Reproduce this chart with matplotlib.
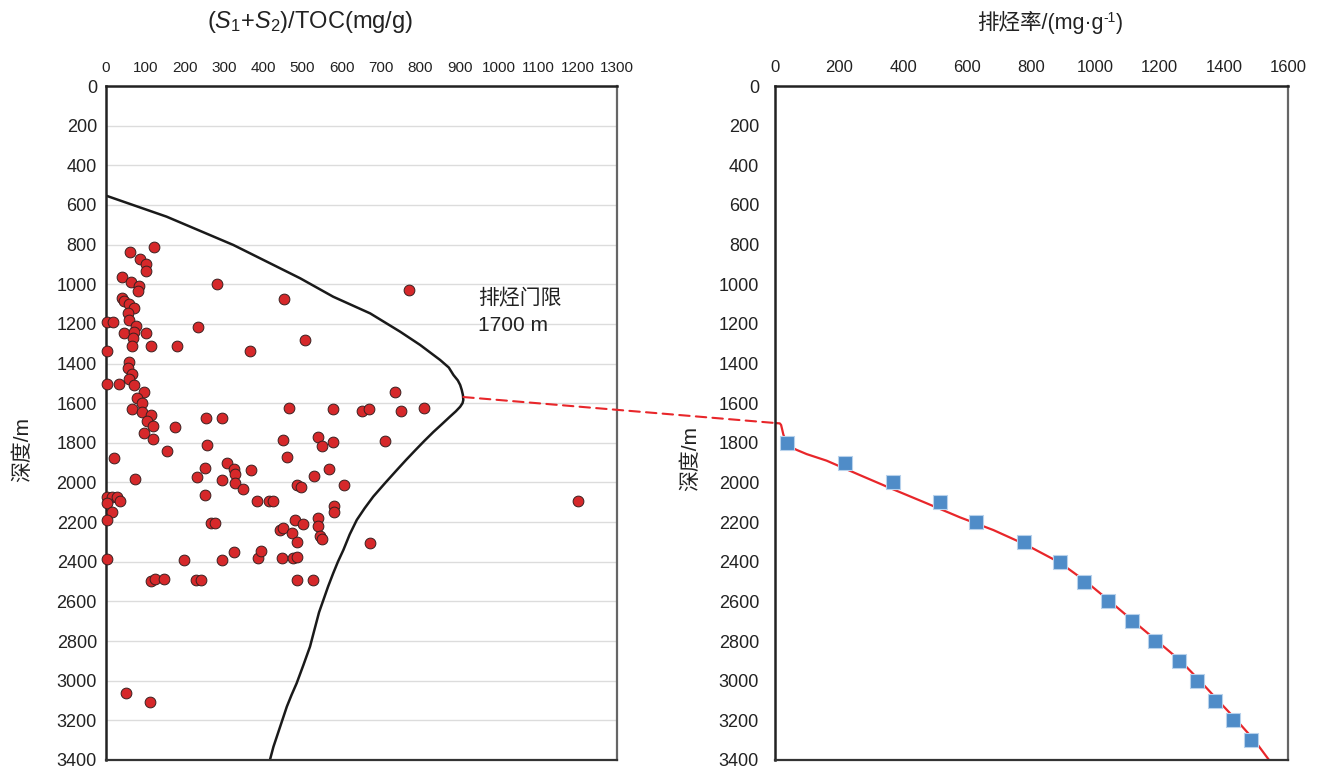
import matplotlib
matplotlib.use("Agg")
import matplotlib.pyplot as plt
from matplotlib.patches import ConnectionPatch

plt.rcParams['font.family'] = ['Liberation Sans', 'Noto Sans CJK SC', 'DejaVu Sans']
plt.rcParams['mathtext.fontset'] = 'custom'
plt.rcParams['mathtext.rm'] = 'Liberation Sans'
plt.rcParams['mathtext.it'] = 'Liberation Sans:italic'

MIXED = ['Liberation Sans', 'Noto Sans CJK SC', 'DejaVu Sans']

# (S1+S2)/TOC samples: value (mg/g) and depth (m)
hi_value = [123, 61, 86, 102, 102, 40, 63, 84, 81, 282, 453, 40, 47, 59, 72, 55, 59, 2, 17, 76,
            235, 47, 101, 71, 69, 506, 67, 114, 180, 2, 367, 59, 55, 67, 59, 72, 2, 34, 97, 80,
            92, 67, 92, 114, 105, 120, 97, 120, 175, 465, 578, 254, 296, 154, 256, 451, 460, 540,
            550, 577, 20, 75, 232, 253, 295, 307, 326, 328, 329, 349, 368, 530, 567, 606, 485,
            495, 2, 15, 27, 36, 2, 15, 2, 2, 252, 385, 415, 426, 579, 581, 267, 277, 443, 451,
            480, 502, 472, 485, 540, 540, 544, 550, 199, 294, 325, 386, 394, 448, 476, 487, 114,
            125, 148, 229, 241, 487, 526, 736, 650, 668, 751, 810, 711, 672, 772, 1200, 50, 112]
hi_depth = [811, 839, 873, 899, 932, 962, 990, 1009, 1033, 1000, 1073, 1071, 1083, 1100, 1121, 1147,
            1180, 1192, 1192, 1211, 1217, 1244, 1244, 1239, 1270, 1281, 1311, 1311, 1311, 1335, 1335,
            1391, 1421, 1453, 1479, 1510, 1502, 1502, 1542, 1575, 1599, 1631, 1643, 1661, 1690, 1715,
            1749, 1782, 1720, 1626, 1628, 1673, 1673, 1841, 1811, 1786, 1870, 1769, 1814, 1794, 1875,
            1984, 1971, 1928, 1989, 1900, 1933, 1959, 2001, 2033, 1937, 1969, 1933, 2013, 2013, 2021,
            2072, 2075, 2072, 2092, 2102, 2150, 2189, 2384, 2065, 2092, 2092, 2092, 2119, 2150, 2206,
            2206, 2241, 2231, 2189, 2211, 2256, 2302, 2181, 2218, 2270, 2287, 2391, 2391, 2349, 2379,
            2346, 2379, 2379, 2377, 2497, 2487, 2488, 2493, 2493, 2492, 2492, 1544, 1639, 1628, 1639,
            1623, 1789, 2305, 1031, 2095, 3062, 3105]

# Envelope of the (S1+S2)/TOC data
env_value = [0, 154, 324, 494, 578, 672, 748, 799, 850, 872, 884, 895, 901, 905, 908, 909, 907,
             901, 890, 875, 855, 833, 810, 788, 764, 740, 710, 680, 658, 638, 620, 604, 590, 578,
             565, 553, 542, 530, 519, 502, 485, 472, 460, 443, 426, 417]
env_depth = [553, 659, 802, 970, 1063, 1147, 1239, 1306, 1382, 1420, 1458, 1485, 1508, 1533, 1559,
             1584, 1600, 1618, 1641, 1668, 1705, 1745, 1790, 1835, 1885, 1937, 2003, 2071, 2130,
             2189, 2262, 2340, 2400, 2458, 2525, 2593, 2655, 2745, 2828, 2922, 3013, 3072, 3131,
             3232, 3333, 3400]

# Expulsion rate (mg/g) by depth
rate_depth = [1800, 1900, 2000, 2100, 2200, 2300, 2400, 2500, 2600, 2700, 2800, 2900, 3000, 3100,
              3200, 3300]
rate_value = [37, 218, 368, 515, 627, 777, 889, 964, 1039, 1113, 1185, 1260, 1316, 1372, 1429, 1485]

# Fitted expulsion-rate trend
fit_value = [0, 15, 19, 22, 26, 33, 41, 53, 68, 99, 161, 265, 369, 473, 577, 681, 785, 889, 970,
             1045, 1118, 1192, 1265, 1325, 1382, 1440, 1495, 1550]
fit_depth = [1700, 1702, 1710, 1730, 1758, 1787, 1808, 1824, 1836, 1857, 1890, 1963, 2035, 2105,
             2176, 2240, 2316, 2405, 2500, 2600, 2700, 2800, 2900, 3000, 3100, 3200, 3300, 3420]

threshold_depth = 1700
tip_value, tip_depth = 909, 1569

depth_ticks = list(range(0, 3401, 200))
left_xticks = list(range(0, 1301, 100))
right_xticks = list(range(0, 1601, 200))

W, H = 1318, 771
fig = plt.figure(figsize=(W / 100, H / 100), dpi=100)
ax1 = fig.add_axes([106 / W, 1 - 760 / H, 511 / W, 674 / H])
ax2 = fig.add_axes([775 / W, 1 - 760 / H, 513 / W, 674 / H])

for ax, xt in ((ax1, left_xticks), (ax2, right_xticks)):
    ax.set_ylim(3400, 0)
    ax.set_xlim(xt[0], xt[-1])
    ax.set_xticks(xt)
    ax.set_yticks(depth_ticks)
    ax.xaxis.tick_top()
    ax.tick_params(axis='both', length=0, labelsize=13, colors='#222222')
    ax.tick_params(axis='x', pad=8, labelsize=12)
    ax.spines['left'].set_color('#222222')
    ax.spines['left'].set_linewidth(1.8)
    ax.spines['top'].set_color('#222222')
    ax.spines['top'].set_linewidth(1.8)
    ax.spines['bottom'].set_color('#333333')
    ax.spines['bottom'].set_linewidth(1.6)
    ax.spines['right'].set_color('#666666')
    ax.spines['right'].set_linewidth(1.6)
    ax.set_ylabel('深度/m', fontsize=15, color='#222222', family=MIXED)

ax1.tick_params(axis='x', labelsize=11)
ax1.tick_params(axis='y', pad=6.5)
ax2.tick_params(axis='y', pad=11.5)
ax1.yaxis.set_label_coords(-0.145, 0.46)
ax2.yaxis.set_label_coords(-0.146, 0.448)

# horizontal grid on the left panel
ax1.set_axisbelow(True)
ax1.grid(axis='y', color='#dcdcdc', linewidth=1.0)
ax1.grid(axis='x', visible=False)

ax1.plot(env_value, env_depth, color='#1a1a1a', linewidth=1.8, zorder=2)
ax1.scatter(hi_value, hi_depth, s=60, color='#d6282a', edgecolors='#3a2020',
            linewidths=0.7, zorder=3, clip_on=False)

ax1.text(0.728, 0.70, '排烃门限\n1700 m', transform=ax1.transAxes, fontsize=15,
         color='#222222', linespacing=1.5, va='top', family=MIXED)

ax1.text(0.399, 1.095, r'($\mathit{S}_1$+$\mathit{S}_2$)/TOC(mg/g)', transform=ax1.transAxes,
         ha='center', va='center', fontsize=17, color='#222222')

ax2.plot(fit_value, fit_depth, color='#e8262a', linewidth=1.6, zorder=2)
ax2.scatter(rate_value, rate_depth, marker='s', s=95, color='#4f8cc8',
            edgecolors='#b8d2ec', linewidths=0.8, zorder=3)

# right-hand title with a raised "-1": laid out piece by piece in pixel units
renderer = fig.canvas.get_renderer()
title_parts = [('排烃率/(mg·g', 15.5, 0), ('-1', 10, 7), (')', 15.5, 0)]
pieces = []
for txt, fs, rise in title_parts:
    t = fig.text(0, 0, txt, fontsize=fs, color='#222222', family=MIXED, va='baseline')
    pieces.append((t, t.get_window_extent(renderer).width, rise))
total = sum(w for _, w, _ in pieces)
x0 = 775 + 0.536 * 513 - total / 2
baseline = H - 29
for t, w, rise in pieces:
    t.set_position((x0 / W, (baseline + rise) / H))
    x0 += w

con = ConnectionPatch(xyA=(tip_value, tip_depth), coordsA=ax1.transData,
                      xyB=(0, threshold_depth), coordsB=ax2.transData,
                      color='#e8262a', linestyle=(0, (5, 3)), linewidth=1.5, zorder=5)
fig.add_artist(con)

fig.savefig('out.png', dpi=100, facecolor='white')
